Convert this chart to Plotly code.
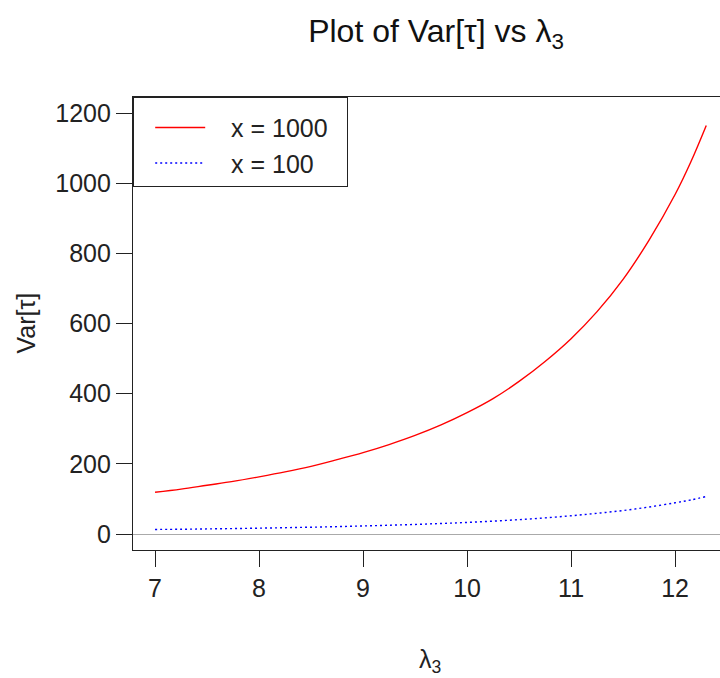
import plotly.graph_objects as go

# Data
lambda3 = [7.0, 7.25, 7.5, 7.75, 8.0, 8.25, 8.5, 8.75, 9.0, 9.25, 9.5, 9.75,
           10.0, 10.25, 10.5, 10.75, 11.0, 11.25, 11.5, 11.75, 12.0, 12.15, 12.3]
var_x1000 = [119, 128, 139, 150, 163, 177, 193, 212, 232, 255, 281, 311,
             346, 386, 435, 492, 557, 634, 726, 838, 968, 1060, 1165]
var_x100 = [13, 13.5, 14.5, 15.5, 16.7, 18, 19.4, 21, 23, 25, 27.3, 30,
            33, 36.7, 41, 46, 52, 59, 67, 77, 89, 97, 107]
x_ticks = [7, 8, 9, 10, 11, 12]
y_ticks = [0, 200, 400, 600, 800, 1000, 1200]
series_names = ["x = 1000", "x = 100"]

FONT = "Liberation Sans, Arial, sans-serif"
NB = "\u00a0\u00a0\u00a0"

fig = go.Figure()
fig.add_trace(go.Scatter(x=lambda3, y=var_x1000, mode="lines", name=NB + series_names[0] + "\u00a0\u00a0",
                         line=dict(color="#ff0000", width=1.4, shape="spline")))
fig.add_trace(go.Scatter(x=lambda3, y=var_x100, mode="lines", name=NB + series_names[1],
                         line=dict(color="#0000ff", width=1.4, dash="2px,3px", shape="spline")))

axis_common = dict(showgrid=False, ticks="outside", ticklen=16, tickwidth=1.2,
                   tickcolor="#222", showline=True, linecolor="#222", linewidth=1.2,
                   tickfont=dict(family=FONT, size=25, color="#222"))

fig.update_layout(
    width=720, height=678,
    margin=dict(l=133, r=0, t=97, b=128),
    paper_bgcolor="white", plot_bgcolor="white",
    showlegend=True,
    title=dict(text="Plot of Var[τ] vs λ<sub>3</sub>", xref="container", x=436/720,
               xanchor="center", yref="container", y=1 - 31/678, yanchor="middle",
               font=dict(family=FONT, size=32, color="#111")),
    xaxis=dict(range=[6.788, 12.432], tickvals=x_ticks, mirror=True, zeroline=False,
               **axis_common),
    yaxis=dict(range=[-45.6, 1246], tickvals=y_ticks, zeroline=True,
               zerolinecolor="#aaaaaa", zerolinewidth=1.2, **axis_common),
    legend=dict(x=0, y=1, xanchor="left", yanchor="top", bgcolor="white",
                bordercolor="#222", borderwidth=1.2, itemwidth=50, indentation=16,
                title=dict(text="\u00a0", font=dict(size=5)),
                font=dict(family=FONT, size=25, color="#222")),
    annotations=[
        dict(text="Var[τ]", xref="paper", yref="paper", x=(25 - 133) / 587, y=0.5,
             xanchor="center", yanchor="middle", textangle=-90, showarrow=False,
             font=dict(family=FONT, size=25, color="#222")),
        dict(text="λ<sub>3</sub>", xref="paper", yref="paper", x=(430 - 133) / 587,
             y=(550 - 661) / 453, xanchor="center", yanchor="middle", showarrow=False,
             font=dict(family=FONT, size=25, color="#222")),
    ],
)

fig.write_html("out.html")
